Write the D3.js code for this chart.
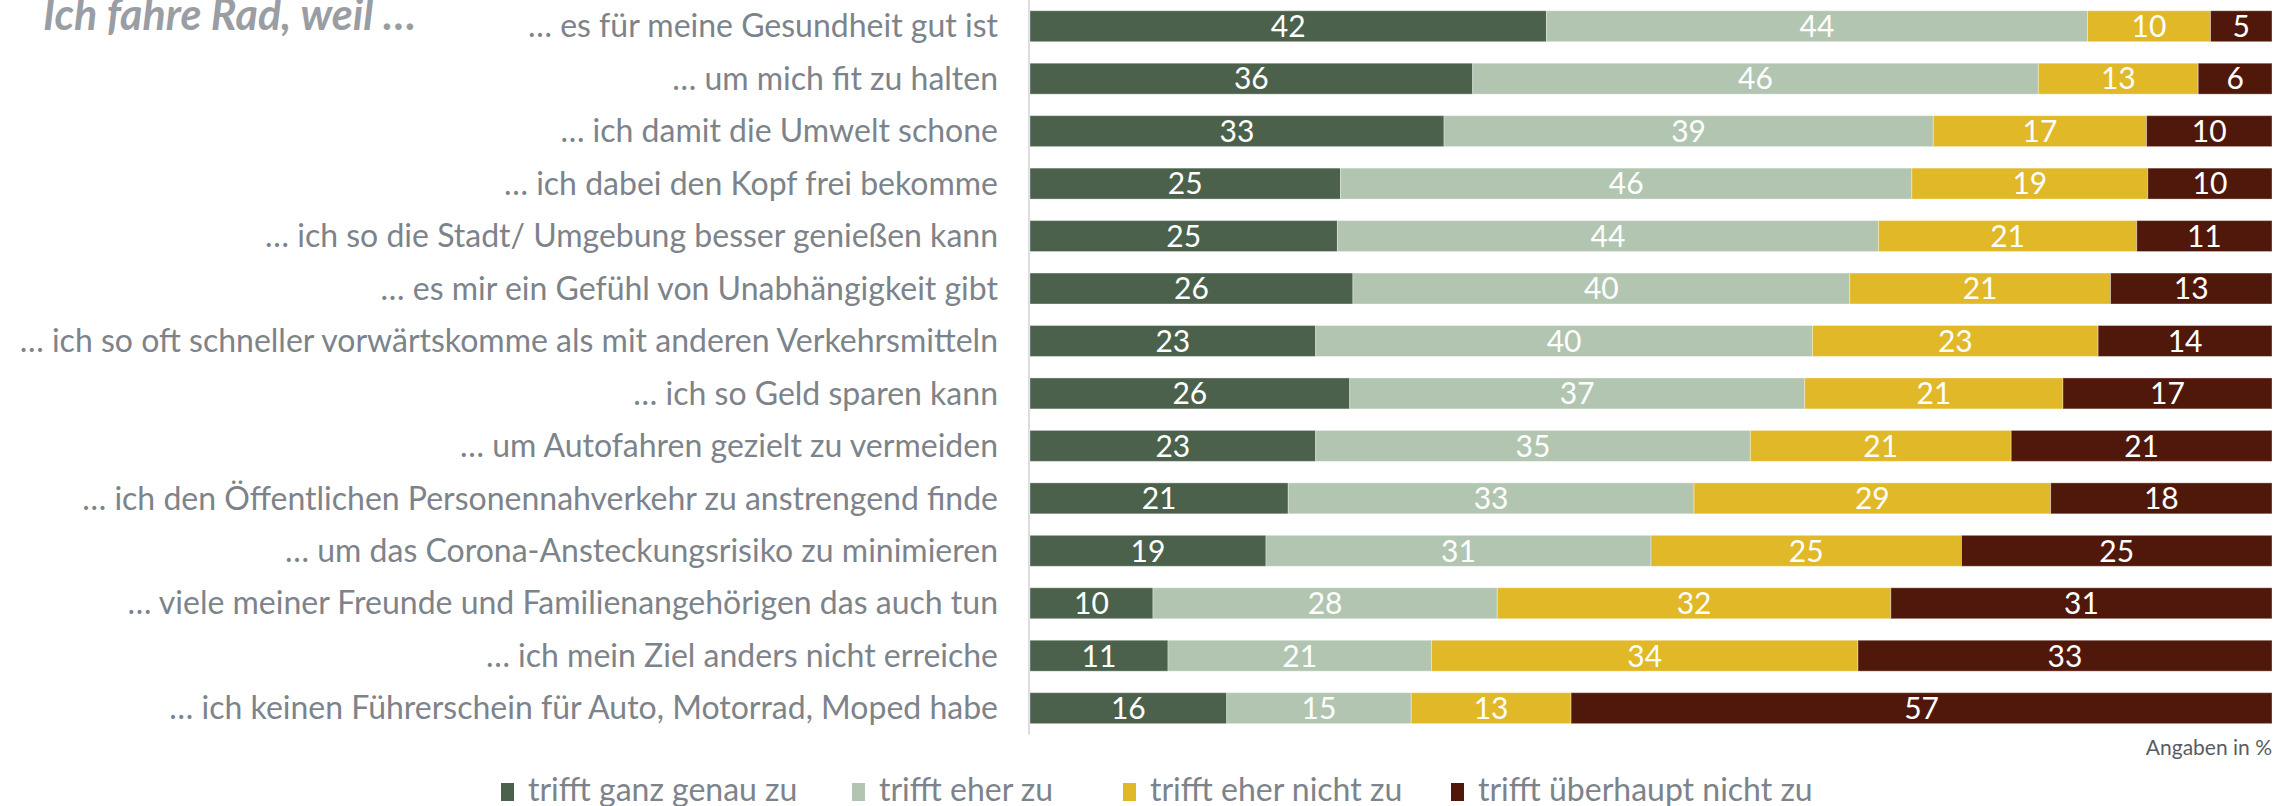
<!DOCTYPE html>
<html>
<head>
<meta charset="utf-8">
<script src="https://cdn.jsdelivr.net/npm/d3@7"></script>
<style>
  html, body { margin: 0; padding: 0; background: #ffffff; }
  svg { display: block; font-family: Lato, "Open Sans", sans-serif; }
</style>
</head>
<body>
<svg id="chart" width="2292" height="806"></svg>
<script>
// Reasons for cycling, answers per statement (in %)
const categories = [
  "… es für meine Gesundheit gut ist",
  "… um mich fit zu halten",
  "… ich damit die Umwelt schone",
  "… ich dabei den Kopf frei bekomme",
  "… ich so die Stadt/ Umgebung besser genießen kann",
  "… es mir ein Gefühl von Unabhängigkeit gibt",
  "… ich so oft schneller vorwärtskomme als mit anderen Verkehrsmitteln",
  "… ich so Geld sparen kann",
  "… um Autofahren gezielt zu vermeiden",
  "… ich den Öffentlichen Personennahverkehr zu anstrengend finde",
  "… um das Corona-Ansteckungsrisiko zu minimieren",
  "… viele meiner Freunde und Familienangehörigen das auch tun",
  "… ich mein Ziel anders nicht erreiche",
  "… ich keinen Führerschein für Auto, Motorrad, Moped habe"
];
const seriesNames = ["trifft ganz genau zu", "trifft eher zu", "trifft eher nicht zu", "trifft überhaupt nicht zu"];
const trifftGanzGenau = [42, 36, 33, 25, 25, 26, 23, 26, 23, 21, 19, 10, 11, 16];
const trifftEher      = [44, 46, 39, 46, 44, 40, 40, 37, 35, 33, 31, 28, 21, 15];
const trifftEherNicht = [10, 13, 17, 19, 21, 21, 23, 21, 21, 29, 25, 32, 34, 13];
const trifftNicht     = [ 5,  6, 10, 10, 11, 13, 14, 17, 21, 18, 25, 31, 33, 57];
const colors = ["#4b614b", "#b2c5b1", "#e1b827", "#50180b"];
const titleText = "Ich fahre Rad, weil …";
const noteText = "Angaben in %";

const svg = d3.select("#chart");
const series = [trifftGanzGenau, trifftEher, trifftEherNicht, trifftNicht];

// rows as objects, each normalised to 100 % (stacked percentage bars)
const rows = categories.map((c, i) => {
  const obj = { cat: c };
  seriesNames.forEach((s, j) => obj[s] = series[j][i]);
  obj.total = series.reduce((a, arr) => a + arr[i], 0);
  return obj;
});

const stack = d3.stack().keys(seriesNames);
const stacked = stack(rows);

const x = d3.scaleLinear().domain([0, 1]).range([1030, 2272]);
const y = d3.scaleBand().domain(categories).range([0, 734.4]).paddingInner(0.41).paddingOuter(0.205);

// vertical category axis line
svg.append("line")
  .attr("x1", 1029).attr("x2", 1029)
  .attr("y1", 0).attr("y2", 734.4)
  .attr("stroke", "#dcdde0").attr("stroke-width", 2);

// category labels
svg.append("g").selectAll("text")
  .data(categories)
  .join("text")
  .attr("x", 998)
  .attr("y", d => y(d) + y.bandwidth() / 2)
  .attr("dy", "0.35em")
  .attr("text-anchor", "end")
  .attr("font-size", 32)
  .attr("fill", "#7d838a")
  .text(d => d);

// bar segments
const groups = svg.append("g").selectAll("g")
  .data(stacked)
  .join("g")
  .attr("fill", (d, i) => colors[i]);

groups.selectAll("rect")
  .data(d => d.map(p => ({ p, key: d.key })))
  .join("rect")
  .attr("x", d => x(d.p[0] / d.p.data.total))
  .attr("width", d => x(d.p[1] / d.p.data.total) - x(d.p[0] / d.p.data.total))
  .attr("y", d => y(d.p.data.cat))
  .attr("height", y.bandwidth())
  .attr("stroke", "#ffffff")
  .attr("stroke-opacity", 0.35)
  .attr("stroke-width", 1);

// value labels
groups.selectAll("text")
  .data(d => d.map(p => ({ p, key: d.key })))
  .join("text")
  .attr("x", d => x((d.p[0] + d.p[1]) / 2 / d.p.data.total))
  .attr("y", d => y(d.p.data.cat) + y.bandwidth() / 2)
  .attr("dy", "0.36em")
  .attr("text-anchor", "middle")
  .attr("font-size", 30)
  .attr("fill", "#ffffff")
  .text(d => d.p.data[d.key]);

// title
svg.append("text")
  .attr("x", 43).attr("y", 30)
  .attr("font-size", 43)
  .attr("font-weight", "bold")
  .attr("font-style", "italic")
  .attr("fill", "#9a9ea4")
  .text(titleText);

// unit note
svg.append("text")
  .attr("x", 2272).attr("y", 755)
  .attr("text-anchor", "end")
  .attr("font-size", 21)
  .attr("fill", "#595c61")
  .text(noteText);

// legend: one swatch + label per series, on a fixed row below the plot
const legendX = [501, 852, 1123, 1451];
const legend = svg.append("g").selectAll("g")
  .data(seriesNames)
  .join("g")
  .attr("transform", (d, i) => `translate(${legendX[i]},0)`);
legend.append("rect")
  .attr("x", 0).attr("y", 783)
  .attr("width", 13).attr("height", 18)
  .attr("fill", (d, i) => colors[i]);
legend.append("text")
  .attr("x", 27).attr("y", 801)
  .attr("font-size", 32)
  .attr("fill", "#7d838a")
  .text(d => d);
</script>
</body>
</html>
